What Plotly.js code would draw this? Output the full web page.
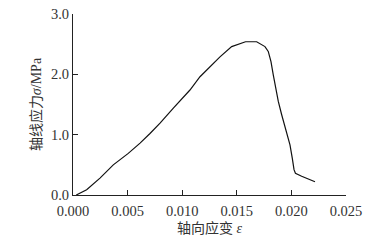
<!DOCTYPE html>
<html><head><meta charset="utf-8">
<script src="https://cdn.plot.ly/plotly-3.0.1.min.js"></script>
<style>html,body{margin:0;padding:0;background:#fff;}</style>
</head><body><div id="chart" style="width:387px;height:251px;"></div>
<script>
var strain = [0.0003,0.00125,0.00247,0.00369,0.00506,0.00614,0.00705,0.00797,0.00919,0.01071,0.01163,0.01255,0.01346,0.01453,0.01529,0.0158,0.01682,0.01758,0.01788,0.01813,0.01834,0.01856,0.0188,0.01911,0.01957,0.01987,0.02008,0.02024,0.02037,0.02094,0.02216];
var stress = [0.0,0.088,0.28,0.50,0.69,0.86,1.02,1.19,1.44,1.74,1.96,2.13,2.29,2.46,2.51,2.54,2.54,2.46,2.38,2.21,1.99,1.77,1.55,1.33,1.05,0.83,0.61,0.42,0.36,0.31,0.22];
var xTicks = [0,0.005,0.010,0.015,0.020,0.025];
var xTickText = ['0.000','0.005','0.010','0.015','0.020','0.025'];
var yTicks = [0,1,2,3];
var yTickText = ['0.0','1.0','2.0','3.0'];

var font = {family:'"Liberation Serif","Noto Sans CJK SC",serif', size:14.5, color:'#333'};
var tfont = {family:'"Liberation Serif","Noto Sans CJK SC",serif', size:14, color:'#333'};
Plotly.newPlot('chart',[{
  x:strain, y:stress, mode:'lines', line:{color:'#111', width:1.2}, hoverinfo:'none'
}],{
  width:387, height:251,
  margin:{l:73,r:41,t:14,b:56},
  paper_bgcolor:'#fff', plot_bgcolor:'#fff',
  showlegend:false,
  font:font,
  xaxis:{range:[0,0.025], tickvals:xTicks, ticktext:xTickText, ticks:'inside', ticklen:5, tickcolor:'#222',
    showline:true, linecolor:'#222', linewidth:1, showgrid:false, zeroline:false, mirror:false,
    ticklabelstandoff:3,
    tickfont:font, title:{text:'轴向应变 <i>ε</i>', font:tfont, standoff:4}},
  yaxis:{range:[0,3], tickvals:yTicks, ticktext:yTickText, ticks:'inside', ticklen:5, tickcolor:'#222',
    showline:true, linecolor:'#222', linewidth:1, showgrid:false, zeroline:false, mirror:false,
    tickfont:font, title:{text:'轴线应力<i>σ</i>/MPa', font:tfont, standoff:6}}
},{staticPlot:true});
</script></body></html>
